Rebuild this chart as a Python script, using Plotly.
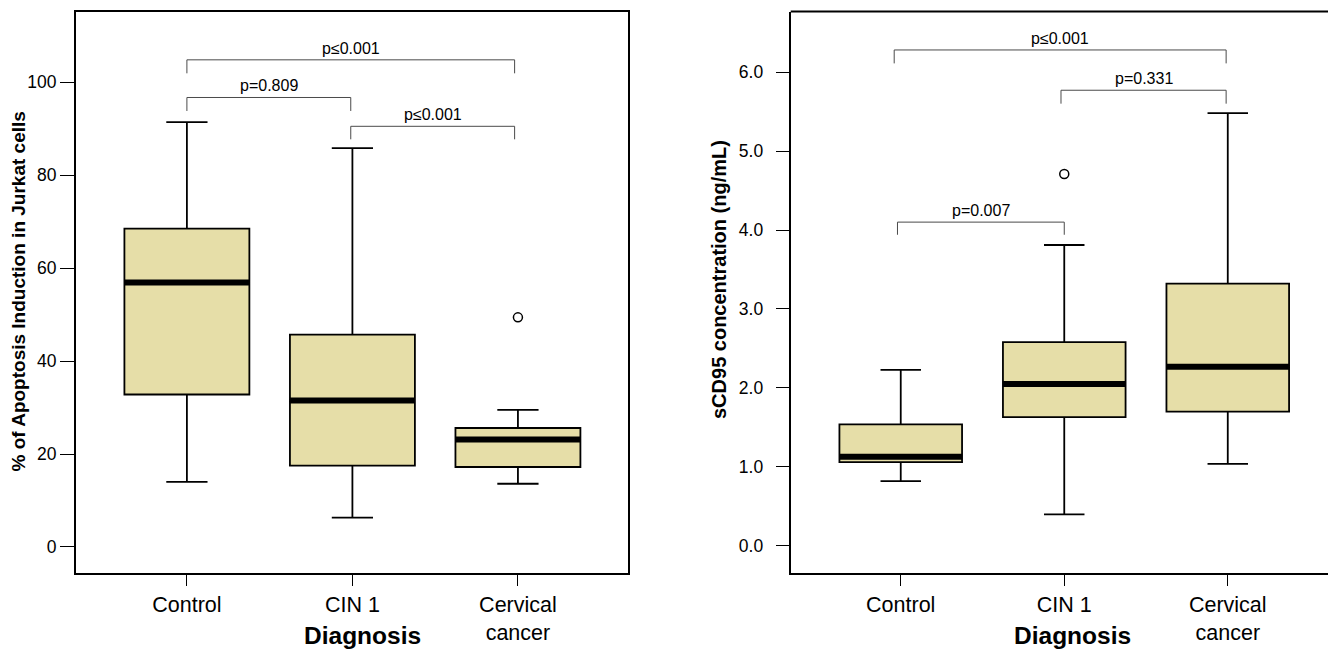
import plotly.graph_objects as go

# ---------------- data ----------------
categories = ["Control", "CIN 1", "Cervical<br>cancer"]
cat_pos = [0, 1, 2]

# Left panel: % of apoptosis induction in Jurkat cells
apop_lower = [14.0, 6.3, 13.6]
apop_q1 = [32.8, 17.5, 17.2]
apop_median = [56.9, 31.5, 23.1]
apop_q3 = [68.5, 45.7, 25.6]
apop_upper = [91.4, 85.8, 29.5]
apop_outlier_x = [2]
apop_outlier_y = [49.4]

# Right panel: sCD95 concentration (ng/mL)
scd_lower = [0.82, 0.40, 1.04]
scd_q1 = [1.06, 1.63, 1.70]
scd_median = [1.13, 2.05, 2.27]
scd_q3 = [1.54, 2.58, 3.32]
scd_upper = [2.23, 3.81, 5.48]
scd_outlier_x = [1]
scd_outlier_y = [4.71]

# significance brackets: (from, to, bar level, drop level, label)
apop_brackets = [
    (0.0, 1.98, 104.8, 101.9, "p≤0.001"),
    (0.0, 0.99, 96.7, 93.8, "p=0.809"),
    (0.99, 1.98, 90.5, 87.7, "p≤0.001"),
]
scd_brackets = [
    (-0.04, 1.99, 6.28, 6.11, "p≤0.001"),
    (0.98, 1.99, 5.77, 5.60, "p=0.331"),
    (-0.02, 1.00, 4.10, 3.94, "p=0.007"),
]

apop_ticks = [0, 20, 40, 60, 80, 100]
scd_ticks = [0, 1, 2, 3, 4, 5, 6]

# ---------------- style ----------------
FONT = "Liberation Sans, Arial, sans-serif"
FILL = "#E6DEA8"
W, H = 1328, 651

fig = go.Figure()


def add_panel(xa, ya, lower, q1, med, q3, upper, ox, oy, width):
    fig.add_trace(go.Box(
        x=cat_pos, lowerfence=lower, q1=q1, median=med, q3=q3, upperfence=upper,
        fillcolor=FILL, line=dict(color="black", width=1.8),
        whiskerwidth=0.33, width=width, boxpoints=False,
        xaxis=xa, yaxis=ya, showlegend=False, hoverinfo="skip",
    ))
    mx, my = [], []
    for p, m in zip(cat_pos, med):
        mx += [p - width / 2, p + width / 2, None]
        my += [m, m, None]
    fig.add_trace(go.Scatter(
        x=mx, y=my, mode="lines", line=dict(color="black", width=6),
        xaxis=xa, yaxis=ya, showlegend=False, hoverinfo="skip",
    ))
    fig.add_trace(go.Scatter(
        x=ox, y=oy, mode="markers",
        marker=dict(symbol="circle-open", size=9, color="black", line=dict(width=1.5)),
        xaxis=xa, yaxis=ya, showlegend=False, hoverinfo="skip",
    ))


add_panel("x", "y", apop_lower, apop_q1, apop_median, apop_q3, apop_upper,
          apop_outlier_x, apop_outlier_y, 0.755)
add_panel("x2", "y2", scd_lower, scd_q1, scd_median, scd_q3, scd_upper,
          scd_outlier_x, scd_outlier_y, 0.75)


def add_brackets(brackets, xa, ya):
    for x0, x1, yl, yd, label in brackets:
        fig.add_trace(go.Scatter(
            x=[x0, x0, x1, x1], y=[yd, yl, yl, yd], mode="lines",
            line=dict(color="#4a4a4a", width=1),
            xaxis=xa, yaxis=ya, showlegend=False, hoverinfo="skip",
        ))
        fig.add_annotation(
            x=(x0 + x1) / 2, y=yl, xref=xa, yref=ya, text=label, showarrow=False,
            yanchor="bottom", yshift=1, font=dict(family=FONT, size=16, color="black"),
        )


add_brackets(apop_brackets, "x", "y")
add_brackets(scd_brackets, "x2", "y2")

ydom = [1 - 573 / H, 1 - 11.5 / H]
axis_common = dict(showgrid=False, zeroline=False, showline=True, linecolor="black",
                   linewidth=2, ticks="outside", tickcolor="black", tickwidth=1)

fig.update_layout(
    width=W, height=H, margin=dict(l=0, r=0, t=0, b=0),
    paper_bgcolor="white", plot_bgcolor="white",
    font=dict(family=FONT, color="black"),
    xaxis=dict(domain=[76 / W, 628 / W], range=[-0.67, 2.665], tickvals=cat_pos,
               ticktext=categories, ticklen=11, mirror=True,
               tickfont=dict(size=21.5, family=FONT), anchor="y", **axis_common),
    yaxis=dict(domain=ydom, range=[-5.6, 115.2], tickvals=apop_ticks, ticklen=14,
               mirror=True, tickfont=dict(size=17.5, family=FONT), anchor="x",
               ticklabelstandoff=0, **axis_common),
    xaxis2=dict(domain=[790.7 / W, 1.0], range=[-0.673, 2.613], tickvals=cat_pos,
                ticktext=categories, ticklen=11, mirror=False,
                tickfont=dict(size=21.5, family=FONT), anchor="y2", **axis_common),
    yaxis2=dict(domain=ydom, range=[-0.343, 6.767], tickvals=scd_ticks, tickformat=".1f",
                ticklen=13, mirror=False, tickfont=dict(size=17.5, family=FONT), anchor="x2",
                ticklabelstandoff=9, **axis_common),
)

# top border of right panel (right border lies outside the picture)
fig.add_shape(type="line", xref="x2 domain", yref="y2 domain", x0=0, x1=1, y0=1, y1=1,
              line=dict(color="black", width=2))

# axis titles
for xc in (362, 1072.5):
    fig.add_annotation(x=xc / W, y=0, xref="paper", yref="paper", text="<b>Diagnosis</b>",
                       showarrow=False, yanchor="bottom", xanchor="center",
                       font=dict(family=FONT, size=24.5, color="black"))
fig.add_annotation(x=17.5 / W, y=1 - 292 / H, xref="paper", yref="paper",
                   text="<b>% of Apoptosis Induction in Jurkat cells</b>", textangle=-90,
                   showarrow=False, xanchor="center", yanchor="middle",
                   font=dict(family=FONT, size=19, color="black"))
fig.add_annotation(x=719 / W, y=1 - 280 / H, xref="paper", yref="paper",
                   text="<b>sCD95 concentration (ng/mL)</b>", textangle=-90,
                   showarrow=False, xanchor="center", yanchor="middle",
                   font=dict(family=FONT, size=20, color="black"))

fig.write_html("out.html")
